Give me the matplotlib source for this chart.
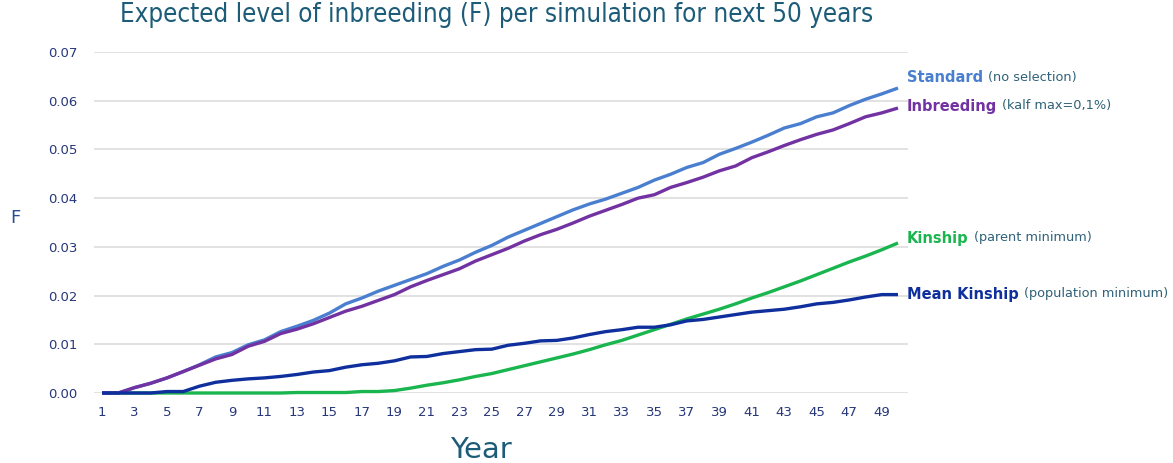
import matplotlib
matplotlib.use("Agg")
import matplotlib.pyplot as plt
import numpy as np

years = list(range(1, 51))

standard = [0, 0, 0.0011, 0.0020, 0.0031, 0.0044, 0.0058, 0.0074, 0.0083, 0.0099,
            0.0109, 0.0126, 0.0137, 0.0149, 0.0164, 0.0183, 0.0195, 0.0209, 0.0221, 0.0233,
            0.0245, 0.0260, 0.0273, 0.0289, 0.0303, 0.0320, 0.0334, 0.0348, 0.0362, 0.0376,
            0.0388, 0.0398, 0.0410, 0.0422, 0.0437, 0.0449, 0.0463, 0.0473, 0.0490, 0.0502,
            0.0515, 0.0529, 0.0544, 0.0553, 0.0567, 0.0575, 0.0590, 0.0603, 0.0614, 0.0626]

inbreeding = [0, 0, 0.0011, 0.0020, 0.0031, 0.0044, 0.0057, 0.0070, 0.0079, 0.0096,
              0.0106, 0.0122, 0.0131, 0.0142, 0.0155, 0.0168, 0.0178, 0.0190, 0.0202, 0.0218,
              0.0231, 0.0243, 0.0255, 0.0271, 0.0284, 0.0297, 0.0312, 0.0325, 0.0336, 0.0349,
              0.0363, 0.0375, 0.0387, 0.0400, 0.0407, 0.0422, 0.0432, 0.0443, 0.0456, 0.0466,
              0.0483, 0.0495, 0.0508, 0.0520, 0.0531, 0.0540, 0.0553, 0.0567, 0.0575, 0.0585]

kinship = [0, 0, 0, 0, 0, 0, 0, 0, 0, 0,
           0, 0, 0.0001, 0.0001, 0.0001, 0.0001, 0.0003, 0.0003, 0.0005, 0.0010,
           0.0016, 0.0021, 0.0027, 0.0034, 0.0040, 0.0048, 0.0056, 0.0064, 0.0072, 0.0080,
           0.0089, 0.0099, 0.0108, 0.0119, 0.0130, 0.0141, 0.0152, 0.0162, 0.0172, 0.0183,
           0.0195, 0.0206, 0.0218, 0.0230, 0.0243, 0.0256, 0.0269, 0.0281, 0.0294, 0.0308]

mean_kinship = [0, 0, 0, 0, 0.0003, 0.0003, 0.0014, 0.0022, 0.0026, 0.0029,
                0.0031, 0.0034, 0.0038, 0.0043, 0.0046, 0.0053, 0.0058, 0.0061, 0.0066, 0.0074,
                0.0075, 0.0081, 0.0085, 0.0089, 0.0090, 0.0098, 0.0102, 0.0107, 0.0108, 0.0113,
                0.0120, 0.0126, 0.0130, 0.0135, 0.0135, 0.0140, 0.0148, 0.0151, 0.0156, 0.0161,
                0.0166, 0.0169, 0.0172, 0.0177, 0.0183, 0.0186, 0.0191, 0.0197, 0.0202, 0.0202]

y_ticks = [0.00, 0.01, 0.02, 0.03, 0.04, 0.05, 0.06, 0.07]
x_ticks = list(range(1, 50, 2))

series_names = ["Standard", "Inbreeding", "Kinship", "Mean Kinship"]
series_notes = ["(no selection)", "(kalf max=0,1%)", "(parent minimum)", "(population minimum)"]

c_std = "#4a7fd0"
c_inb = "#7232a2"
c_kin = "#19b54e"
c_mk = "#0f2f9c"
c_title = "#1d5c78"
c_tick = "#26377a"
c_note = "#2f6178"

W, H = 1173, 463
fig = plt.figure(figsize=(W / 100, H / 100), dpi=100)
ax = fig.add_axes([94 / W, (H - 393) / H, (908 - 94) / W, (393 - 52) / H])
ax.set_xlim(1 - 8 / 16.245, 50 + 10 / 16.245)
ax.set_ylim(0, 0.07)

for s in ax.spines.values():
    s.set_visible(False)
ax.set_yticks(y_ticks)
ax.set_yticklabels([f"{v:.2f}" for v in y_ticks])
ax.set_xticks(x_ticks)
ax.set_xticklabels([str(v) for v in x_ticks])
ax.tick_params(axis="both", length=0, labelsize=9.5, labelcolor=c_tick)
for lab in ax.get_xticklabels() + ax.get_yticklabels():
    lab.set_fontweight("medium")
ax.tick_params(axis="y", pad=12)
ax.tick_params(axis="x", pad=9)
ax.grid(axis="y", color="#e2e2e2", linewidth=1.4)
ax.set_axisbelow(True)

lw = 2.4
ax.plot(years, kinship, color=c_kin, lw=lw, clip_on=False, solid_capstyle="butt", zorder=3)
ax.plot(years, standard, color=c_std, lw=lw, clip_on=False, solid_capstyle="butt", zorder=4)
ax.plot(years, inbreeding, color=c_inb, lw=lw, clip_on=False, solid_capstyle="butt", zorder=5)
ax.plot(years, mean_kinship, color=c_mk, lw=lw, clip_on=False, solid_capstyle="butt", zorder=6)

fig.text(497 / W, 1 - 15 / H, "Expected level of inbreeding (F) per simulation for next 50 years",
         ha="center", va="center", fontsize=18.6, color=c_title,
         family="DejaVu Sans", fontstretch="condensed")
fig.text(481 / W, 1 - 450 / H, "Year", ha="center", va="center", fontsize=21, color=c_title)
fig.text(15 / W, 1 - 218 / H, "F", ha="center", va="center", fontsize=13, color="#2a4d8f")

label_y = [77, 106, 238, 294]
label_c = [c_std, c_inb, c_kin, c_mk]
fig.canvas.draw()
renderer = fig.canvas.get_renderer()
for name, note, yy, cc in zip(series_names, series_notes, label_y, label_c):
    t = fig.text(907 / W, 1 - yy / H, name, ha="left", va="center", fontsize=10.5,
                 fontweight="bold", color=cc)
    bb = t.get_window_extent(renderer=renderer)
    fig.text((bb.x1 + 5) / W, 1 - yy / H, note, ha="left", va="center", fontsize=9.3,
             color=c_note)

fig.savefig("out.png", dpi=100, facecolor="white")
